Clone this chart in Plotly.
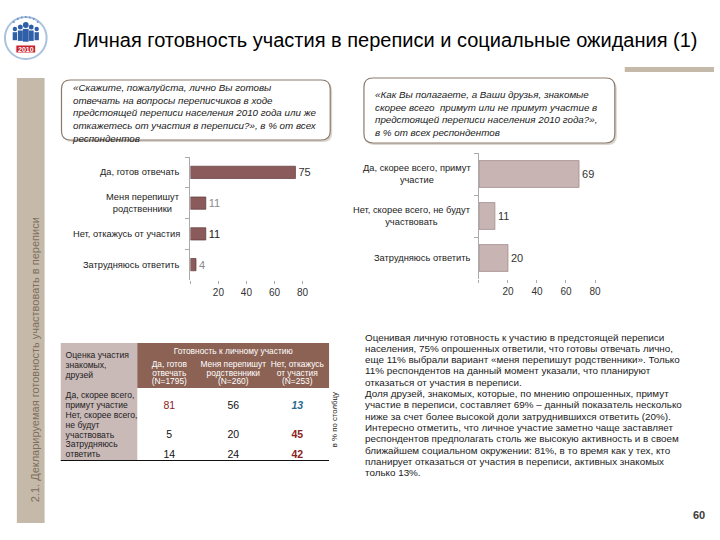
import plotly.graph_objects as go

W, H = 720, 540


def px(x):
    return x / W


def py(y):
    return 1 - y / H


FONT = "Liberation Sans, Arial, sans-serif"

# ---------------- data ----------------
personal_cats = ["Да, готов отвечать", "Меня перепишут<br>родственники",
                 "Нет, откажусь от участия", "Затрудняюсь ответить"]
personal_vals = [75, 11, 11, 4]
personal_label_colors = ["#333333", "#8a8a8a", "#222222", "#8a8a8a"]

friends_cats = ["Да, скорее всего, примут<br>участие",
                "Нет, скорее всего, не будут<br>участвовать",
                "Затрудняюсь ответить"]
friends_vals = [69, 11, 20]

x_tickvals = [0, 20, 40, 60, 80]
x_ticktext = ["", "20", "40", "60", "80"]

table_title = "Готовность к личному участию"
table_corner = "Оценка участия<br>знакомых,<br>друзей"
table_col_headers = ["Да, готов<br>отвечать<br>(N=1795)",
                     "Меня перепишут<br>родственники<br>(N=260)",
                     "Нет, откажусь<br>от участия<br>(N=253)"]
table_row_labels = ["Да, скорее всего,<br>примут участие",
                    "Нет, скорее всего,<br>не будут<br>участвовать",
                    "Затрудняюсь<br>ответить"]
table_values = [[81, 56, 13],
                [5, 20, 45],
                [14, 24, 42]]
table_value_colors = [["#8b2323", "#111111", "#2a6a90"],
                      ["#111111", "#111111", "#8b2323"],
                      ["#111111", "#111111", "#8b2323"]]
table_value_bold = [[False, False, True],
                    [False, False, True],
                    [False, False, True]]
table_value_italic = [[False, False, True],
                      [False, False, False],
                      [False, False, False]]

title_text = "Личная готовность участия в переписи и социальные ожидания (1)"
side_text = "2.1. Декларируемая готовность участвовать в переписи"
q_left = ("«Скажите, пожалуйста, лично Вы готовы<br>отвечать на вопросы переписчиков в ходе<br>"
          "предстоящей переписи населения 2010 года или же<br>"
          "откажетесь от участия в переписи?», в % от всех<br>респондентов")
q_right = ("«Как Вы полагаете, а Ваши друзья, знакомые<br>скорее всего  примут или не примут участие в<br>"
           "предстоящей переписи населения 2010 года?»,<br>в % от всех респондентов")
paragraph_lines = [
    "Оценивая личную готовность к участию в предстоящей переписи",
    "населения, 75% опрошенных ответили, что готовы отвечать лично,",
    "еще 11% выбрали вариант «меня перепишут родственники». Только",
    "11% респондентов на данный момент указали, что планируют",
    "отказаться от участия в переписи.",
    "Доля друзей, знакомых, которые, по мнению опрошенных, примут",
    "участие в переписи, составляет 69% – данный показатель несколько",
    "ниже за счет более высокой доли затруднившихся ответить (20%).",
    "Интересно отметить, что личное участие заметно чаще заставляет",
    "респондентов предполагать столь же высокую активность и в своем",
    "ближайшем социальном окружении: 81%, в то время как у тех, кто",
    "планирует отказаться от участия в переписи, активных знакомых",
    "только 13%.",
]
page_number = "60"

# ---------------- figure ----------------
fig = go.Figure()

fig.add_trace(go.Bar(
    orientation="h", x=personal_vals, y=personal_cats, xaxis="x", yaxis="y",
    marker=dict(color="#8b5a5a", line=dict(color="#5e3b3b", width=0.7)),
    width=0.4, text=[str(v) for v in personal_vals], textposition="outside",
    textfont=dict(size=11, color=personal_label_colors, family=FONT),
    cliponaxis=False, hoverinfo="skip",
))

fig.add_trace(go.Bar(
    orientation="h", x=friends_vals, y=friends_cats, xaxis="x2", yaxis="y2",
    marker=dict(color="#c9b4b4", line=dict(color="#9c8585", width=0.7)),
    width=0.64, text=[str(v) for v in friends_vals], textposition="outside",
    textfont=dict(size=11, color="#333333", family=FONT),
    cliponaxis=False, hoverinfo="skip",
))

# ---- table as text marks on its own axes ----
lab_x, lab_y, lab_t = [], [], []
val_x, val_y, val_t, val_c = [], [], [], []
line_idx = 0
for r, label in enumerate(table_row_labels):
    for part in label.split("<br>"):
        lab_x.append(-1.62)
        lab_y.append(line_idx)
        lab_t.append(part)
        line_idx += 1
    for c, v in enumerate(table_values[r]):
        s = str(v)
        if table_value_bold[r][c]:
            s = "<b>" + s + "</b>"
        if table_value_italic[r][c]:
            s = "<i>" + s + "</i>"
        val_x.append(c)
        val_y.append(line_idx - 1)
        val_t.append(s)
        val_c.append(table_value_colors[r][c])

fig.add_trace(go.Scatter(
    x=lab_x, y=lab_y, text=lab_t, mode="text", textposition="middle right",
    textfont=dict(size=8.6, color="#222222", family=FONT),
    xaxis="x3", yaxis="y3", hoverinfo="skip", cliponaxis=False,
))
fig.add_trace(go.Scatter(
    x=val_x, y=val_y, text=val_t, mode="text", textposition="middle center",
    textfont=dict(size=10.5, color=val_c, family=FONT),
    xaxis="x3", yaxis="y3", hoverinfo="skip", cliponaxis=False,
))

# header texts
hx, hy, ht = [], [], []
hx.append(1)
hy.append(-4.5)
ht.append(table_title)
for c, head in enumerate(table_col_headers):
    for k, part in enumerate(head.split("<br>")):
        hx.append(c)
        hy.append(-3.2 + 0.9 * k)
        ht.append(part)
fig.add_trace(go.Scatter(
    x=hx, y=hy, text=ht, mode="text", textposition="middle center",
    textfont=dict(size=8.4, color="#ffffff", family=FONT),
    xaxis="x3", yaxis="y3", hoverinfo="skip", cliponaxis=False,
))
cx, cy, ct = [], [], []
for k, part in enumerate(table_corner.split("<br>")):
    cx.append(-1.62)
    cy.append(-4.1 + 1.03 * k)
    ct.append(part)
fig.add_trace(go.Scatter(
    x=cx, y=cy, text=ct, mode="text", textposition="middle right",
    textfont=dict(size=8.6, color="#222222", family=FONT),
    xaxis="x3", yaxis="y3", hoverinfo="skip", cliponaxis=False,
))

shapes = []
annotations = []

# sidebars
shapes.append(dict(type="rect", xref="paper", yref="paper", x0=px(17), x1=px(45),
                   y0=py(523), y1=py(78), fillcolor="#c5baa9", line=dict(width=0), layer="below"))
shapes.append(dict(type="rect", xref="paper", yref="paper", x0=px(630), x1=px(720),
                   y0=py(72), y1=py(67), fillcolor="#c5baa9", line=dict(width=0), layer="below"))


def rounded_path(x0, y0, x1, y1, r):
    X = lambda v: f"{px(v):.5f}"
    Y = lambda v: f"{py(v):.5f}"
    pts = [
        f"M {X(x0 + r)},{Y(y0)}",
        f"L {X(x1 - r)},{Y(y0)}",
        f"Q {X(x1)},{Y(y0)} {X(x1)},{Y(y0 + r)}",
        f"L {X(x1)},{Y(y1 - r)}",
        f"Q {X(x1)},{Y(y1)} {X(x1 - r)},{Y(y1)}",
        f"L {X(x0 + r)},{Y(y1)}",
        f"Q {X(x0)},{Y(y1)} {X(x0)},{Y(y1 - r)}",
        f"L {X(x0)},{Y(y0 + r)}",
        f"Q {X(x0)},{Y(y0)} {X(x0 + r)},{Y(y0)}",
        "Z",
    ]
    return " ".join(pts)


for (bx0, by0, bx1, by1) in [(62, 80, 333, 140), (367, 78, 620, 143)]:
    shapes.append(dict(type="path", xref="paper", yref="paper",
                       path=rounded_path(bx0 + 2, by0 + 2, bx1 + 2, by1 + 2, 9),
                       fillcolor="#dcd6d0", line=dict(width=0), layer="below"))
    shapes.append(dict(type="path", xref="paper", yref="paper",
                       path=rounded_path(bx0, by0, bx1, by1, 9),
                       fillcolor="#ffffff", line=dict(color="#8b7b6e", width=1.2), layer="below"))

annotations.append(dict(xref="paper", yref="paper", x=px(71), y=py(80), xanchor="left", yanchor="top",
                        text="<i>" + q_left.replace("<br>", "</i><br><i>") + "</i>", showarrow=False, align="left",
                        font=dict(size=9.8, color="#1a1a1a", family=FONT)))
annotations.append(dict(xref="paper", yref="paper", x=px(376), y=py(87), xanchor="left", yanchor="top",
                        text="<i>" + q_right.replace("<br>", "</i><br><i>") + "</i>", showarrow=False, align="left",
                        font=dict(size=9.8, color="#1a1a1a", family=FONT)))

# table shapes
shapes.append(dict(type="rect", xref="x3", yref="y3", x0=-1.7, x1=-0.5, y0=-5.4, y1=6.6,
                   fillcolor="#c9b9b7", line=dict(width=0), layer="below"))
shapes.append(dict(type="rect", xref="x3", yref="y3", x0=-0.5, x1=2.5, y0=-5.4, y1=-0.82,
                   fillcolor="#8c6254", line=dict(width=0), layer="below"))
shapes.append(dict(type="line", xref="x3", yref="y3", x0=-1.7, x1=2.5, y0=6.6, y1=6.6,
                   line=dict(color="#111111", width=2)))

# category labels for bar charts
for cat in personal_cats:
    annotations.append(dict(xref="paper", yref="y", x=px(184), y=cat, xanchor="right", yanchor="middle",
                            text=cat, showarrow=False, align="center",
                            font=dict(size=9.3, color="#222222", family=FONT)))
for cat in friends_cats:
    annotations.append(dict(xref="paper", yref="y2", x=px(477), y=cat, xanchor="right", yanchor="middle",
                            text=cat, showarrow=False, align="center",
                            font=dict(size=9.3, color="#222222", family=FONT)))

# title
annotations.append(dict(xref="paper", yref="paper", x=px(73), y=py(40), xanchor="left", yanchor="middle",
                        text=title_text, showarrow=False,
                        font=dict(size=20, color="#000000", family=FONT)))
# side text
annotations.append(dict(xref="paper", yref="paper", x=px(35), y=py(504), xanchor="center", yanchor="bottom",
                        text=side_text, showarrow=False, textangle=-90,
                        font=dict(size=11, color="#7f6e5e", family=FONT)))
# table side label
annotations.append(dict(xref="paper", yref="paper", x=px(337), y=py(420), xanchor="center", yanchor="middle",
                        text="в % по столбцу", showarrow=False, textangle=-90,
                        font=dict(size=7.8, color="#222222", family=FONT)))
# paragraph
for k, line in enumerate(paragraph_lines):
    annotations.append(dict(xref="paper", yref="paper", x=px(366), y=py(337 + 11.3 * k),
                            xanchor="left", yanchor="middle", text=line, showarrow=False,
                            font=dict(size=9.85, color="#1a1a1a", family=FONT)))
# page number
annotations.append(dict(xref="paper", yref="paper", x=px(713), y=py(515), xanchor="right", yanchor="middle",
                        text="<b>" + page_number + "</b>", showarrow=False,
                        font=dict(size=11, color="#3a3a3a", family=FONT)))

# logo
shapes.append(dict(type="circle", xref="paper", yref="paper", x0=px(5), x1=px(47), y0=py(59), y1=py(17),
                   line=dict(color="#a9c2de", width=2), fillcolor="rgba(0,0,0,0)"))
for (lx, ly, rr, hh) in [(15, 29, 2.2, 10), (20.5, 27, 2.5, 13), (26, 25, 2.9, 16), (31.5, 27, 2.5, 13), (37, 29, 2.2, 10)]:
    shapes.append(dict(type="circle", xref="paper", yref="paper", x0=px(lx - rr), x1=px(lx + rr),
                       y0=py(ly + rr), y1=py(ly - rr), fillcolor="#2f5fa7", line=dict(width=0)))
    shapes.append(dict(type="rect", xref="paper", yref="paper", x0=px(lx - rr), x1=px(lx + rr),
                       y0=py(ly + rr + 1 + hh * 0.8), y1=py(ly + rr + 1), fillcolor="#2f5fa7", line=dict(width=0)))
for (dx, dy) in [(14, 22), (18, 19), (22, 17.5), (26, 17), (30, 17.5), (34, 19), (38, 22)]:
    shapes.append(dict(type="circle", xref="paper", yref="paper", x0=px(dx - 1), x1=px(dx + 1),
                       y0=py(dy + 1), y1=py(dy - 1), fillcolor="#6d93c9", line=dict(width=0)))
shapes.append(dict(type="rect", xref="paper", yref="paper", x0=px(16), x1=px(36), y0=py(53), y1=py(45),
                   fillcolor="#c8202a", line=dict(color="#ffffff", width=1)))
annotations.append(dict(xref="paper", yref="paper", x=px(26), y=py(49), xanchor="center", yanchor="middle",
                        text="<b>2010</b>", showarrow=False, font=dict(size=7, color="#ffffff", family=FONT)))

axis_common = dict(showgrid=False, zeroline=False)
fig.update_layout(
    width=W, height=H,
    margin=dict(l=0, r=0, t=0, b=0),
    paper_bgcolor="#ffffff", plot_bgcolor="rgba(0,0,0,0)",
    showlegend=False,
    font=dict(family=FONT),
    xaxis=dict(domain=[px(192), px(305)], range=[0, 80], tickvals=x_tickvals, ticktext=x_ticktext,
               ticks="outside", ticklen=3, tickcolor="#aaaaaa", showline=False, anchor="y",
               tickfont=dict(size=10, color="#333333"), **axis_common),
    yaxis=dict(domain=[py(280), py(157)], autorange="reversed", showticklabels=False,
               ticks="outside", tickson="boundaries", ticklen=4, tickcolor="#aaaaaa",
               showline=True, linecolor="#aaaaaa", linewidth=1, anchor="x", **axis_common),
    xaxis2=dict(domain=[px(483), px(600)], range=[0, 80], tickvals=x_tickvals, ticktext=x_ticktext,
                ticks="outside", ticklen=3, tickcolor="#aaaaaa", showline=False, anchor="y2",
                tickfont=dict(size=10, color="#333333"), **axis_common),
    yaxis2=dict(domain=[py(279), py(153)], autorange="reversed", showticklabels=False,
                ticks="outside", tickson="boundaries", ticklen=4, tickcolor="#aaaaaa",
                showline=True, linecolor="#aaaaaa", linewidth=1, anchor="x2", **axis_common),
    xaxis3=dict(domain=[px(61), px(332)], range=[-1.7, 2.5], visible=False, anchor="y3", **axis_common),
    yaxis3=dict(domain=[py(461), py(343)], range=[6.6, -5.4], visible=False, anchor="x3", **axis_common),
    shapes=shapes,
    annotations=annotations,
)

fig.write_html("out.html", config={"displayModeBar": False},
               post_script="document.body.style.margin='0px';")
